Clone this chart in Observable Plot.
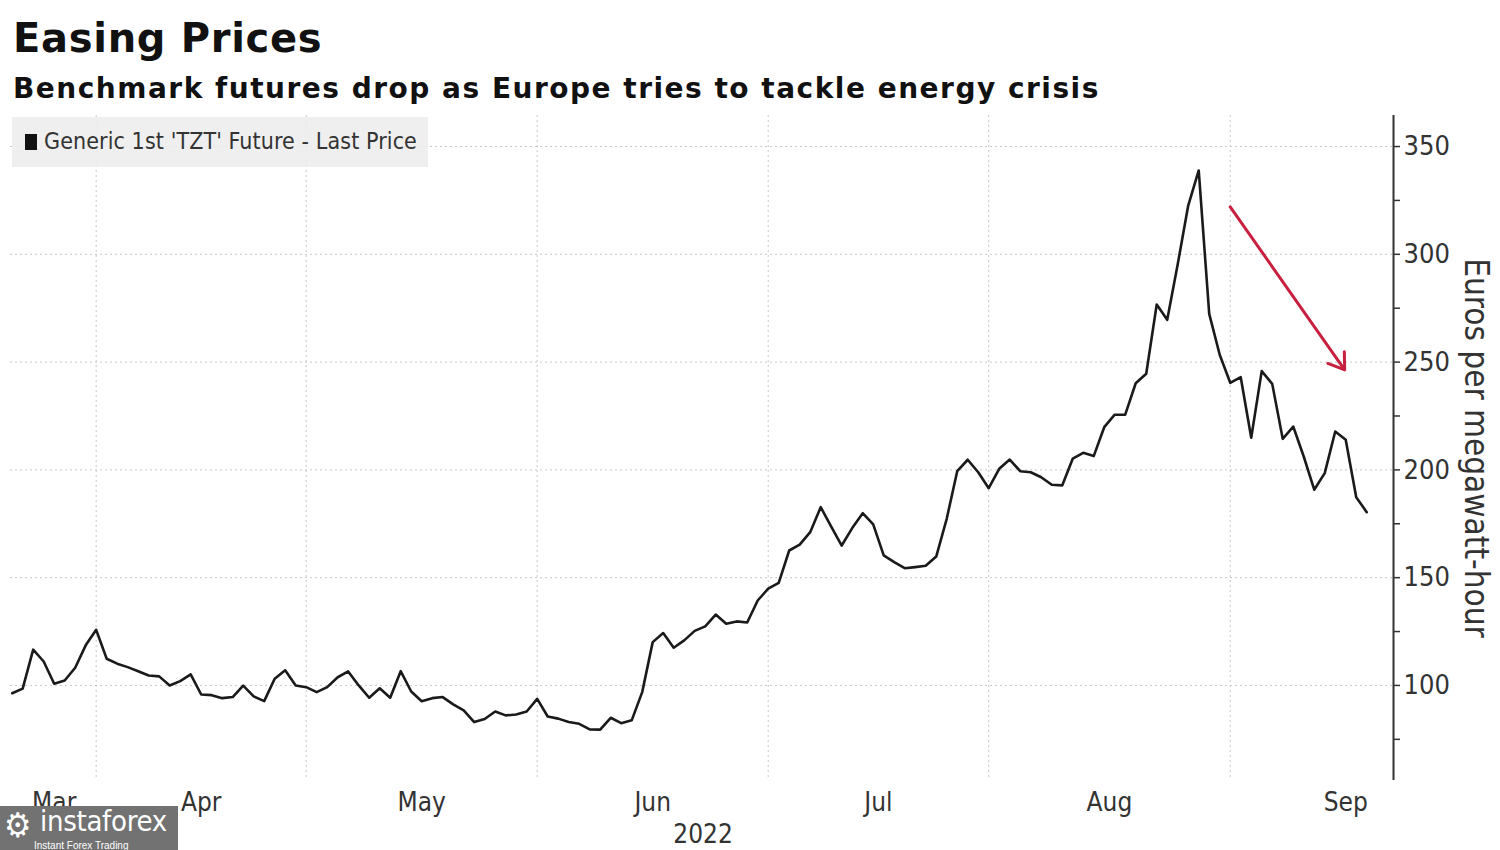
<!DOCTYPE html>
<html>
<head>
<meta charset="utf-8">
<script src="https://cdn.jsdelivr.net/npm/d3@7"></script>
<script src="https://cdn.jsdelivr.net/npm/@observablehq/plot@0.6"></script>
<style>
  html, body { margin: 0; padding: 0; background: #fff; }
  body { width: 1500px; height: 850px; position: relative; overflow: hidden;
         font-family: "DejaVu Sans Condensed", "DejaVu Sans", sans-serif; font-stretch: condensed; }
  #header { position: relative; height: 110px; }
  #title { position: absolute; left: 13px; top: 18px; font-family: "DejaVu Sans", sans-serif; font-stretch: normal; font-size: 40px; letter-spacing: 0.7px; font-weight: bold; color: #111; line-height: 1; white-space: nowrap; }
  #subtitle { position: absolute; left: 13px; top: 75px; font-family: "DejaVu Sans", sans-serif; font-stretch: normal; font-size: 28px; letter-spacing: 1.5px; font-weight: bold; color: #111; line-height: 1; white-space: nowrap; }
  #legend { position: absolute; left: 12px; top: 117px; width: 416px; height: 50px; background: rgba(236,236,236,0.85); }
  #legend .sw { position: absolute; left: 13px; top: 17px; width: 12px; height: 16px; background: #111; }
  #legend .lt { position: absolute; left: 32px; top: 12px; font-size: 23px; color: #333; white-space: nowrap; line-height: 1.1; letter-spacing: 0.1px; }
  #logo { position: absolute; left: 0; top: 806px; width: 178px; height: 44px; background: #727272; color: #fff; }
  #logo .gear { position: absolute; left: 4px; top: 2px; font-size: 34px; line-height: 1; font-stretch: normal; }
  #logo .name { position: absolute; left: 40px; top: 1px; font-size: 29px; line-height: 1; letter-spacing: -0.3px; }
  #logo .tag { position: absolute; left: 34px; top: 35px; font-size: 10px; line-height: 1; font-family: "Liberation Sans", sans-serif; }
</style>
</head>
<body>
<div id="header">
  <div id="title">Easing Prices</div>
  <div id="subtitle">Benchmark futures drop as Europe tries to tackle energy crisis</div>
</div>
<div id="chart"></div>
<div id="legend"><div class="sw"></div><div class="lt">Generic 1st 'TZT' Future - Last Price</div></div>
<div id="logo"><span class="gear">⚙</span><span class="name">instaforex</span><span class="tag">Instant Forex Trading</span></div>
<script>
// Daily settlement prices (trading days, late March → mid September 2022), EUR/MWh
const prices = [
  96.4, 98.5, 116.6, 111.1, 100.8, 102.3, 108.2, 118.6,
  125.8, 112.4, 110.1, 108.5, 106.6, 104.6, 104.2, 100, 102, 105.1, 95.8, 95.5,
  94.1, 94.6, 99.9, 94.9, 92.7, 103.1, 107, 100,
  99.2, 96.9, 99.2, 103.8, 106.5, 100, 94.3, 98.7, 94.3, 106.6, 97.2, 92.7,
  94.1, 94.6, 91.2, 88.4, 83, 84.4, 87.9, 86.1, 86.5, 87.9,
  93.8, 85.6, 84.6, 83, 82.2, 79.6, 79.5, 85, 82.5, 83.8, 96.9, 120.1,
  124.3, 117.5, 120.9, 125.3, 127.4, 132.9, 128.6, 129.7, 129.2, 139.4,
  144.9, 147.6, 162.6, 165.3, 171.1, 182.7, 173.7, 164.9, 173, 179.9,
  174.7, 160.3, 157.2, 154.4, 154.9, 155.5, 159.8, 177.3, 199.4, 204.7, 198.9,
  191.5, 200.5, 204.8, 199.4, 198.9, 196.6, 193.1, 192.8, 205.2, 207.9,
  206.4, 219.8, 225.6, 225.6, 240.2, 244.6, 276.7, 269.6, 295.4, 322.6,
  338.9, 272.4, 253.4,
  240.4, 243, 214.9, 245.8, 239.9, 214.4, 220.1, 206.2, 190.8, 198.5,
  217.8, 214, 187.3, 180.4
];

// Month boundaries as trading-day positions (1-based): first point, Apr 1, May 2, Jun 1, Jul 1, Aug 1, Sep 1, end of Sep
const monthNames = ["Mar", "Apr", "May", "Jun", "Jul", "Aug", "Sep"];
const monthBounds = [1, 9, 29, 51, 73, 94, 117, 139];
const gridMonths = [9, 29, 51, 73, 94, 117];
const yearLabel = ["2022"];
const yearPos = [66.8];

const yTicks = [100, 150, 200, 250, 300, 350];
const yMinorTicks = [75, 125, 175, 225, 275, 325];
const yLabel = "Euros per megawatt-hour";

// Annotation arrow (trading-day position, price)
const arrowFrom = [117, 322];
const arrowTo = [127.9, 246.4];

const xDomain = [0.84, 132.55];
const yDomain = [55.9, 364.4];

const data = prices.map((v, i) => ({i: i + 1, v}));
const labelPos = monthNames.map((m, k) => (monthBounds[k] + monthBounds[k + 1]) / 2);

const grid = {stroke: "#c8c8c8", strokeDasharray: "2,3", strokeWidth: 1};

const chart = Plot.plot({
  width: 1500,
  height: 740,
  marginTop: 5,
  marginBottom: 70,
  marginLeft: 10,
  marginRight: 107,
  style: {fontFamily: "'DejaVu Sans Condensed', 'DejaVu Sans', sans-serif", fontSize: "27px", color: "#333", background: "transparent", fontStretch: "condensed"},
  x: {type: "linear", domain: xDomain, axis: null},
  y: {domain: yDomain, axis: null},
  marks: [
    Plot.ruleY(yTicks, grid),
    Plot.ruleX(gridMonths, grid),
    Plot.axisY(yMinorTicks, {anchor: "right", tickSize: 6, tickFormat: () => "", stroke: "#333", strokeWidth: 1.5, label: null}),
    Plot.axisY(yTicks, {anchor: "right", tickSize: 6, tickPadding: 4, stroke: "#333", strokeWidth: 1.5, fill: "#333", fontSize: 27, label: null}),
    Plot.ruleX([xDomain[1]], {stroke: "#333", strokeWidth: 2}),
    Plot.text(monthNames, {x: (d, k) => labelPos[k], text: d => d, frameAnchor: "bottom", lineAnchor: "middle", dy: 22, fontSize: 26, fill: "#333"}),
    Plot.text(yearLabel, {x: (d, k) => yearPos[k], text: d => d, frameAnchor: "bottom", lineAnchor: "middle", dy: 54, fontSize: 26, fill: "#333"}),
    Plot.text([yLabel], {frameAnchor: "right", textAnchor: "middle", lineAnchor: "middle", rotate: 90, dx: 82, fontSize: 33, fill: "#333"}),
    Plot.line(data, {x: "i", y: "v", stroke: "#1a1a1a", strokeWidth: 2.6, strokeLinejoin: "round"}),
    Plot.arrow([{a: arrowFrom, b: arrowTo}], {x1: d => d.a[0], y1: d => d.a[1], x2: d => d.b[0], y2: d => d.b[1], stroke: "#c8203f", strokeWidth: 3, headLength: 9, headAngle: 68})
  ]
});
document.getElementById("chart").appendChild(chart);
</script>
</body>
</html>
